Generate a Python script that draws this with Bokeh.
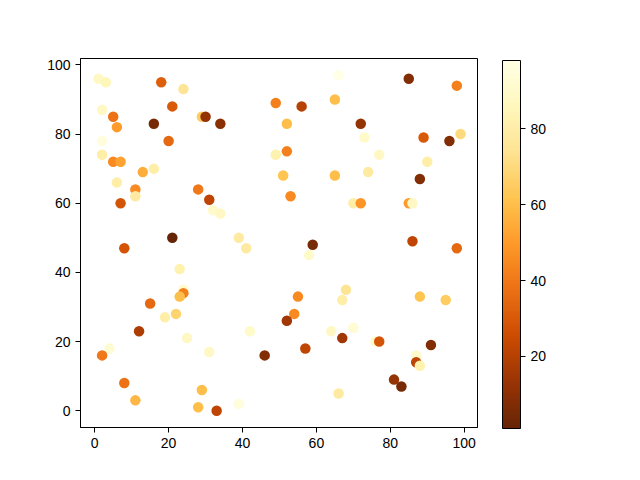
from bokeh.plotting import figure
from bokeh.models import LinearColorMapper, ColorBar, FixedTicker, Range1d, ColumnDataSource
from bokeh.embed import file_html
from bokeh.resources import INLINE

# ---- data ----
x_vals = [1, 3, 18, 24, 2, 21, 5, 29, 30, 6, 16, 34, 20, 2, 49, 2, 5, 7, 13, 16,
          49, 6, 11, 11, 28, 31, 32, 34, 7, 21, 39, 66, 85, 98, 56, 65, 52, 72, 73, 89,
          96, 99, 52, 77, 90, 51, 65, 74, 88, 53, 70, 72, 85, 86, 8, 41, 23, 24, 24, 23,
          15, 22, 19, 12, 42, 25, 4, 2, 31, 46, 8, 29, 11, 28, 33, 39, 59, 58, 86, 98,
          68, 67, 55, 88, 95, 54, 52, 64, 70, 67, 76, 77, 57, 91, 87, 87, 88, 81, 83, 66]
y_vals = [96, 95, 95, 93, 87, 88, 85, 85, 85, 82, 83, 83, 78, 78, 89, 74, 72, 72, 69, 70,
          74, 66, 64, 62, 64, 61, 58, 57, 60, 50, 50, 97, 96, 94, 88, 90, 83, 83, 79, 79,
          78, 80, 75, 74, 72, 68, 68, 69, 67, 62, 60, 60, 60, 60, 47, 47, 41, 35, 34, 33,
          31, 28, 27, 23, 23, 21, 18, 16, 17, 16, 8, 6, 3, 1, 0, 2, 48, 45, 49, 47,
          35, 32, 33, 33, 32, 28, 26, 23, 24, 21, 20, 20, 18, 19, 16, 14, 13, 9, 7, 5]
c_vals = [88, 85, 32, 75, 88, 30, 38, 65, 12, 50, 5, 10, 35, 95, 42, 80, 45, 52, 55, 80,
          82, 80, 45, 78, 40, 22, 90, 88, 28, 1, 78, 98, 8, 42, 20, 60, 60, 12, 90, 30,
          8, 70, 42, 88, 80, 62, 60, 78, 8, 45, 80, 48, 50, 88, 28, 78, 82, 90, 42, 60,
          35, 68, 80, 18, 90, 88, 92, 40, 88, 8, 38, 60, 58, 60, 22, 95, 5, 90, 22, 35,
          75, 80, 45, 62, 65, 45, 15, 88, 92, 15, 90, 28, 22, 8, 90, 22, 82, 12, 5, 78]
x_ticks = [0, 20, 40, 60, 80, 100]
y_ticks = [0, 20, 40, 60, 80, 100]
cbar_ticks = [20, 40, 60, 80]

# YlOrBr reversed (dark -> light)
anchors = ["#662506", "#993404", "#cc4c02", "#ec7014", "#fe9929",
           "#fec44f", "#fee391", "#fff7bc", "#ffffe5"]

def build_palette(cols, n=256):
    rgb = [tuple(int(h[i:i + 2], 16) for i in (1, 3, 5)) for h in cols]
    out = []
    for k in range(n):
        t = k / (n - 1) * (len(rgb) - 1)
        i = min(int(t), len(rgb) - 2)
        f = t - i
        r, g, b = (round(rgb[i][j] + (rgb[i + 1][j] - rgb[i][j]) * f) for j in range(3))
        out.append("#%02x%02x%02x" % (r, g, b))
    return out

palette = build_palette(anchors)
mapper = LinearColorMapper(palette=palette, low=min(c_vals), high=max(c_vals))

src = ColumnDataSource(dict(x=x_vals, y=y_vals, c=c_vals))

FONT = "Liberation Sans"

p = figure(frame_width=397, frame_height=369,
           min_border_left=80, min_border_top=58, min_border_bottom=45, min_border_right=0,
           x_range=Range1d(-3.85, 103.6), y_range=Range1d(-4.85, 101.85),
           output_backend="svg", toolbar_location=None,
           background_fill_color="white", border_fill_color="white")

p.scatter("x", "y", source=src, size=10.5,
          fill_color={"field": "c", "transform": mapper},
          line_color={"field": "c", "transform": mapper}, line_width=0)

p.grid.visible = False
p.outline_line_color = "black"
p.outline_line_width = 1
for ax, ticks in ((p.xaxis, x_ticks), (p.yaxis, y_ticks)):
    ax.ticker = FixedTicker(ticks=ticks)
    ax.major_tick_in = 0
    ax.major_tick_out = 5
    ax.minor_tick_line_color = None
    ax.axis_line_color = "black"
    ax.major_tick_line_color = "black"
    ax.major_label_text_font = FONT
    ax.major_label_text_font_size = "14px"
    ax.major_label_text_color = "black"
    ax.major_label_standoff = 5

cb = ColorBar(color_mapper=mapper, width=18, height=368,
              ticker=FixedTicker(ticks=cbar_ticks),
              major_tick_in=0, major_tick_out=5, major_tick_line_color="black",
              minor_tick_line_color=None,
              bar_line_color="black", bar_line_width=1,
              major_label_text_font=FONT, major_label_text_font_size="14px",
              major_label_text_color="black", label_standoff=5,
              padding=0, margin=0, location=(25, -1),
              background_fill_color=None, border_line_color=None)
p.add_layout(cb, "right")

open("out.html", "w").write(file_html(p, INLINE))
